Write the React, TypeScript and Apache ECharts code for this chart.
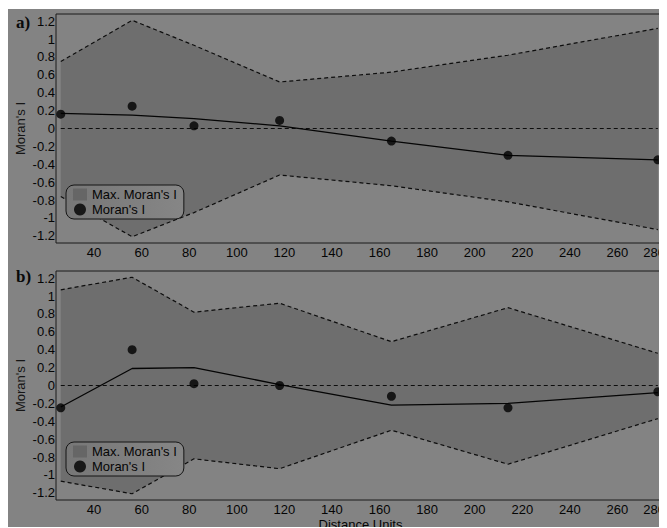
import React, { useEffect, useRef } from "react";
import * as echarts from "echarts";

const distances = [26, 56, 82, 118, 165, 214, 277];

const upperA = [0.75, 1.21, 0.93, 0.52, 0.63, 0.82, 1.12];
const lowerA = [-0.76, -1.21, -0.94, -0.52, -0.64, -0.82, -1.13];
const trendA = [0.17, 0.15, 0.11, 0.03, -0.14, -0.3, -0.35];
const moranA = [0.16, 0.25, 0.03, 0.09, -0.14, -0.3, -0.35];

const upperB = [1.07, 1.21, 0.82, 0.92, 0.49, 0.87, 0.36];
const lowerB = [-1.07, -1.21, -0.82, -0.93, -0.5, -0.88, -0.37];
const trendB = [-0.24, 0.19, 0.2, 0.01, -0.22, -0.2, -0.08];
const moranB = [-0.25, 0.4, 0.02, 0.0, -0.12, -0.25, -0.07];

const xTickLabels = [40, 60, 80, 100, 120, 140, 160, 180, 200, 220, 240, 260, 280];
const yTickLabels = [-1.2, -1, -0.8, -0.6, -0.4, -0.2, 0, 0.2, 0.4, 0.6, 0.8, 1, 1.2];

const BG = "#838383";
const BAND = "#6e6e6e";
const INK = "#050505";
const FONT = "'Liberation Sans', Arial, sans-serif";
const FS = 13;

const GRID_TOPS = [5, 262];

function buildOption() {
  const grids: any[] = [];
  const xAxes: any[] = [];
  const yAxes: any[] = [];
  const series: any[] = [];
  const legends: any[] = [];
  const panels = [
    { upper: upperA, lower: lowerA, trend: trendA, moran: moranA },
    { upper: upperB, lower: lowerB, trend: trendB, moran: moranB },
  ];
  panels.forEach((p, i) => {
    grids.push({
      left: 48,
      top: GRID_TOPS[i],
      width: 609,
      height: 229,
      show: true,
      containLabel: false,
      outerBoundsMode: "none",
      borderColor: "#1a1a1a",
      borderWidth: 1,
      backgroundColor: "transparent",
    });
    xAxes.push({
      type: "value",
      gridIndex: i,
      min: 24,
      max: 280,
      interval: 4,
      axisLine: { show: false },
      axisTick: { show: false },
      splitLine: { show: false },
      axisLabel: {
        margin: 3,
        fontSize: FS,
        color: INK,
        fontFamily: FONT,
        alignMaxLabel: "right",
        formatter: (v: number) => {
          const r = Math.round(v);
          return xTickLabels.indexOf(r) >= 0 && Math.abs(v - r) < 1e-6 ? String(r) : "";
        },
      },
      name: i === 1 ? "Distance Units" : "",
      nameLocation: "middle",
      nameMoveOverlap: false,
      nameGap: 18,
      nameTextStyle: { fontSize: FS, color: INK, fontFamily: FONT },
    });
    yAxes.push({
      type: "value",
      gridIndex: i,
      min: -1.28,
      max: 1.28,
      interval: 0.04,
      axisLine: { show: false },
      axisTick: { show: false },
      splitLine: { show: false },
      axisLabel: {
        margin: 1,
        fontSize: FS,
        color: INK,
        fontFamily: FONT,
        formatter: (v: number) => {
          const t = Math.round(v * 100);
          const match = yTickLabels.some((y) => Math.round(y * 100) === t);
          if (!match || Math.abs(v * 100 - t) > 1e-4) return "";
          const val = t / 100;
          return String(val === 0 ? 0 : val);
        },
      },
      name: "Moran's I",
      nameLocation: "middle",
      nameMoveOverlap: false,
      nameGap: 29,
      nameTextStyle: { fontSize: FS, color: "#161616", fontFamily: FONT },
    });

    const upper = p.upper;
    const lower = p.lower;
    series.push({
      type: "custom",
      name: "Max. Moran's I",
      xAxisIndex: i,
      yAxisIndex: i,
      z: 1,
      silent: true,
      data: distances.map((d, k) => [d, upper[k], lower[k]]),
      renderItem: (params: any, api: any) => {
        if (params.dataIndex !== 0) return null;
        const pts: number[][] = [];
        for (let k = 0; k < distances.length; k++) pts.push(api.coord([distances[k], upper[k]]));
        for (let k = distances.length - 1; k >= 0; k--) pts.push(api.coord([distances[k], lower[k]]));
        return {
          type: "polygon",
          shape: { points: pts },
          style: { fill: BAND, stroke: "none" },
        };
      },
    });
    const dashed = (vals: number[]) => ({
      type: "line",
      xAxisIndex: i,
      yAxisIndex: i,
      z: 3,
      silent: true,
      symbol: "none",
      data: distances.map((d, k) => [d, vals[k]]),
      lineStyle: { color: "#0d0d0d", width: 1.2, type: [4, 3] },
    });
    series.push(dashed(upper));
    series.push(dashed(lower));
    series.push(dashed(distances.map(() => 0)));
    series.push({
      type: "line",
      xAxisIndex: i,
      yAxisIndex: i,
      z: 4,
      silent: true,
      symbol: "none",
      data: distances.map((d, k) => [d, p.trend[k]]),
      lineStyle: { color: "#050505", width: 1.3 },
    });
    series.push({
      type: "scatter",
      name: "Moran's I",
      xAxisIndex: i,
      yAxisIndex: i,
      z: 5,
      symbol: "circle",
      symbolSize: 9,
      data: distances.map((d, k) => [d, p.moran[k]]),
      itemStyle: { color: "#000000" },
    });

    legends.push({
      left: 58,
      top: GRID_TOPS[i] + 171,
      orient: "vertical",
      padding: [3, 7, 3, 7],
      itemGap: 2,
      itemWidth: 14,
      itemHeight: 12,
      borderRadius: 8,
      borderColor: "#151515",
      borderWidth: 1,
      backgroundColor: {
        type: "linear",
        x: 0,
        y: 0,
        x2: 1,
        y2: 0,
        colorStops: [
          { offset: 0, color: "#777777" },
          { offset: 1, color: "#868686" },
        ],
      },
      selectedMode: false,
      textStyle: { fontSize: FS, color: INK, fontFamily: FONT },
      data: [
        { name: "Max. Moran's I", icon: "rect", itemStyle: { color: "#666666" } },
        { name: "Moran's I", icon: "circle", itemStyle: { color: "#000000" } },
      ],
    });
  });

  return {
    animation: false,
    backgroundColor: BG,
    grid: grids,
    xAxis: xAxes,
    yAxis: yAxes,
    legend: legends,
    series,
    graphic: [
      {
        type: "text",
        left: 8,
        top: 5,
        style: { text: "a)", font: "bold 17px 'Liberation Serif', serif", fill: "#0a0a0a" },
      },
      {
        type: "text",
        left: 8,
        top: 259,
        style: { text: "b)", font: "bold 17px 'Liberation Serif', serif", fill: "#0a0a0a" },
      },
    ],
  };
}

export default function App() {
  const ref = useRef<HTMLDivElement>(null);
  useEffect(() => {
    if (!ref.current) return;
    const chart = echarts.init(ref.current, null, { renderer: "svg" });
    chart.setOption(buildOption() as any);
    return () => chart.dispose();
  }, []);
  return (
    <div
      ref={ref}
      style={{ width: 659, height: 519, position: "relative", top: 1, background: BG }}
    />
  );
}
